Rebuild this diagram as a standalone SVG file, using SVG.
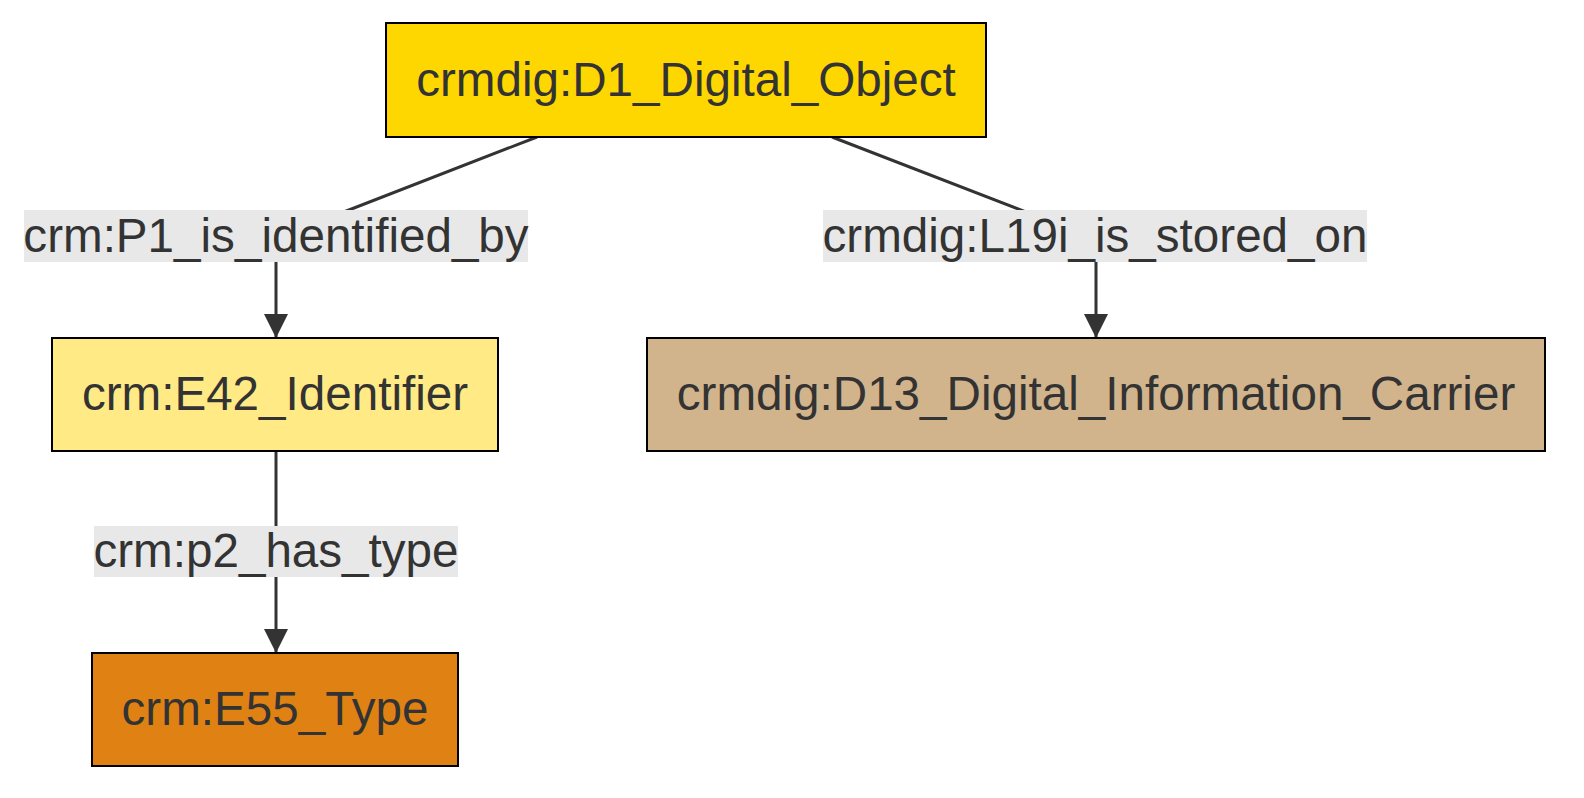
<svg xmlns="http://www.w3.org/2000/svg" width="1584" height="798" viewBox="0 0 1584 798">
<style>
.node rect{stroke:#000;stroke-width:2}
.node text,.label text{font-family:"Liberation Sans",Arial,sans-serif;font-size:47.6px;fill:#333;text-anchor:middle}
.edge{fill:none;stroke:#333;stroke-width:3}
.label rect{fill:#e8e8e8}
</style>
<defs>
<marker id="arrow" viewBox="0 0 24 24" refX="24" refY="12" markerWidth="24" markerHeight="24" markerUnits="userSpaceOnUse" orient="auto">
<path d="M0,0 L24,12 L0,24 z" fill="#333"/>
</marker>
</defs>
<rect width="1584" height="798" fill="#fff"/>
<g id="connectors">
<path class="edge" d="M537,137 L300,229 Q276,238 276,252 L276,338" marker-end="url(#arrow)"/>
<path class="edge" d="M832,137 L1070,229 Q1096,238 1096,252 L1096,338" marker-end="url(#arrow)"/>
<path class="edge" d="M276,451 L276,653" marker-end="url(#arrow)"/>
</g>
<g id="labels">
<g class="label" id="label-p1"><rect x="24" y="210" width="504" height="52"/><text x="276" y="252">crm:P1_is_identified_by</text></g>
<g class="label" id="label-l19i"><rect x="823" y="210" width="544" height="52"/><text x="1095" y="252">crmdig:L19i_is_stored_on</text></g>
<g class="label" id="label-p2"><rect x="94" y="526" width="364" height="51"/><text x="276" y="567">crm:p2_has_type</text></g>
</g>
<g class="node" id="D1"><rect x="386" y="23" width="600" height="114" fill="#ffd700"/><text x="686" y="96">crmdig:D1_Digital_Object</text></g>
<g class="node" id="E42"><rect x="52" y="338" width="446" height="113" fill="#ffea85"/><text x="275" y="410">crm:E42_Identifier</text></g>
<g class="node" id="D13"><rect x="647" y="338" width="898" height="113" fill="#d2b48c"/><text x="1096" y="410">crmdig:D13_Digital_Information_Carrier</text></g>
<g class="node" id="E55"><rect x="92" y="653" width="366" height="113" fill="#e08213"/><text x="275" y="725">crm:E55_Type</text></g>
</svg>
